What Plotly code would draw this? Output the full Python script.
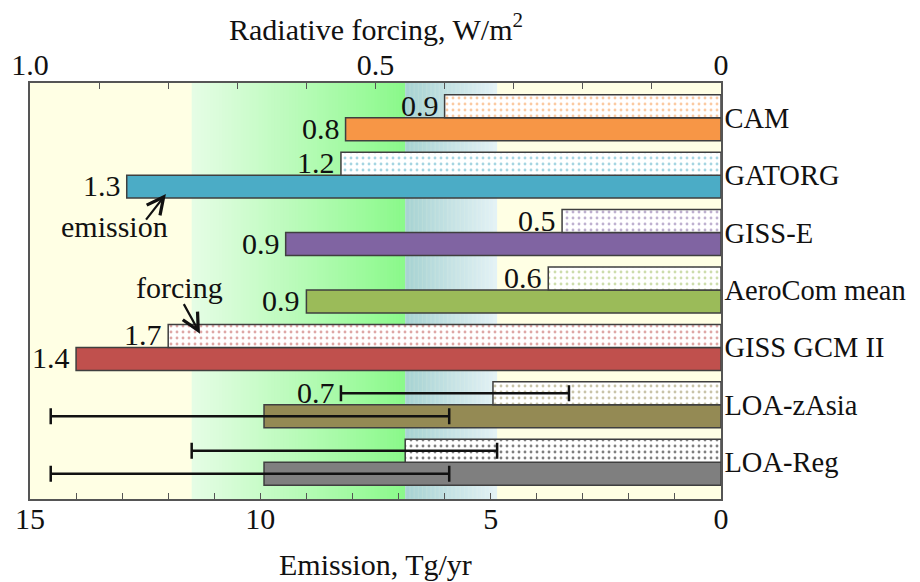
import plotly.graph_objects as go

# ---------------- data ----------------
models = ["CAM", "GATORG", "GISS-E", "AeroCom mean", "GISS GCM II", "LOA-zAsia", "LOA-Reg"]
colors = ["#F79646", "#4BACC6", "#8064A2", "#9BBB59", "#C0504D", "#948A54", "#7F7F7F"]
dot_colors = ["#F79646", "#4BACC6", "#8064A2", "#9BBB59", "#C0504D", "#948A54", "#000000"]

forcing = [0.40, 0.55, 0.23, 0.25, 0.80, 0.33, 0.457]          # W/m2
forcing_hi = [None, None, None, None, None, 0.55, 0.766]
forcing_lo = [None, None, None, None, None, 0.22, 0.324]
forcing_labels = ["0.9", "1.2", "0.5", "0.6", "1.7", "0.7", ""]

emission = [8.15, 12.9, 9.45, 9.0, 14.0, 9.92, 9.92]          # Tg/yr
emission_hi = [None, None, None, None, None, 14.55, 14.55]
emission_lo = [None, None, None, None, None, 5.9, 5.9]
emission_labels = ["0.8", "1.3", "0.9", "0.9", "1.4", "", ""]

rf_ticks = [1.0, 0.5, 0]
rf_ticktext = ["1.0", "0.5", "0"]
em_ticks = [15, 10, 5, 0]
em_ticktext = ["15", "10", "5", "0"]

RF_MAX = 1.0
EM_MAX = 15.0

FONT = "Liberation Serif, Times New Roman, serif"
FS = 30
TXT = "#111111"
FRAME = "#555555"
OUTLINE = "#3F3F3F"

n = len(models)
idx = list(range(n))
y_rf = [i - 0.2 for i in idx]
y_em = [i + 0.2 for i in idx]

fig = go.Figure()

# emission bars (bottom axis)
fig.add_trace(go.Bar(
    x=emission, y=y_em, orientation="h", width=0.4, xaxis="x", yaxis="y",
    marker=dict(color=colors, line=dict(color=OUTLINE, width=1.5)),
    showlegend=False, hoverinfo="skip"))

# emission error bars
e_rows = [i for i in idx if emission_hi[i] is not None]
fig.add_trace(go.Scatter(
    x=[emission[i] for i in e_rows], y=[y_em[i] for i in e_rows],
    mode="markers", marker=dict(size=1, opacity=0), xaxis="x", yaxis="y",
    error_x=dict(type="data", symmetric=False,
                 array=[emission_hi[i] - emission[i] for i in e_rows],
                 arrayminus=[emission[i] - emission_lo[i] for i in e_rows],
                 color="#111111", thickness=2.5, width=8),
    showlegend=False, hoverinfo="skip"))

# forcing bars (top axis)
fig.add_trace(go.Bar(
    x=forcing, y=y_rf, orientation="h", width=0.4, xaxis="x2", yaxis="y",
    marker=dict(color="white", line=dict(color=OUTLINE, width=1.5),
                pattern=dict(shape=".", fgcolor=dot_colors, bgcolor="white",
                             size=6, solidity=0.18)),
    showlegend=False, hoverinfo="skip"))

f_rows = [i for i in idx if forcing_hi[i] is not None]
fig.add_trace(go.Scatter(
    x=[forcing[i] for i in f_rows], y=[y_rf[i] for i in f_rows],
    mode="markers", marker=dict(size=1, opacity=0), xaxis="x2", yaxis="y",
    error_x=dict(type="data", symmetric=False,
                 array=[forcing_hi[i] - forcing[i] for i in f_rows],
                 arrayminus=[forcing[i] - forcing_lo[i] for i in f_rows],
                 color="#111111", thickness=2.5, width=8),
    showlegend=False, hoverinfo="skip"))

# ---------------- background bands (derived from LOA-Reg forcing range) ----------------
shapes = []
ref = models.index("LOA-Reg")
scale = EM_MAX / RF_MAX


def hex2rgb(h):
    h = h.lstrip("#")
    return tuple(int(h[k:k + 2], 16) for k in (0, 2, 4))


def gradient(x_start, x_end, c_start, c_end, steps=70):
    a, b = hex2rgb(c_start), hex2rgb(c_end)
    w = (x_end - x_start) / steps
    for s in range(steps):
        t = (s + 0.5) / steps
        c = tuple(round(a[k] + (b[k] - a[k]) * t) for k in range(3))
        shapes.append(dict(type="rect", xref="x", yref="paper",
                           x0=x_start + s * w, x1=x_start + (s + 1) * w + (w * 0.3 if s < steps - 1 else 0),
                           y0=0, y1=1, layer="below", line=dict(width=0),
                           fillcolor="rgb(%d,%d,%d)" % c))


gradient(forcing_hi[ref] * scale, forcing[ref] * scale, "#E6FDE6", "#8AF98A")
gradient(forcing[ref] * scale, forcing_lo[ref] * scale, "#A6D2D2", "#E4F2F6")

# ---------------- annotations ----------------
ann = []
for i in idx:
    if forcing_labels[i]:
        xv = forcing_hi[i] if forcing_hi[i] is not None else forcing[i]
        ann.append(dict(x=xv, y=y_rf[i], xref="x2", yref="y", text=forcing_labels[i],
                        showarrow=False, xanchor="right", yanchor="middle", xshift=-4, yshift=1,
                        font=dict(family=FONT, size=FS, color=TXT)))
    if emission_labels[i]:
        ann.append(dict(x=emission[i], y=y_em[i], xref="x", yref="y", text=emission_labels[i],
                        showarrow=False, xanchor="right", yanchor="middle", xshift=-4, yshift=1,
                        font=dict(family=FONT, size=FS, color=TXT)))

# pointer annotations
ann.append(dict(x=12.05, y=1.33, xref="x", yref="y", text="", showarrow=True,
                arrowhead=5, arrowsize=1.5, arrowwidth=2.2, arrowcolor="#111",
                ax=-21, ay=27))
ann.append(dict(x=13.17, y=1.9, xref="x", yref="y", text="emission", showarrow=False,
                xanchor="center", yanchor="middle",
                font=dict(family=FONT, size=FS, color=TXT)))
ann.append(dict(x=11.31, y=3.76, xref="x", yref="y", text="", showarrow=True,
                arrowhead=5, arrowsize=1.5, arrowwidth=2.2, arrowcolor="#111",
                ax=-17, ay=-31))
ann.append(dict(x=11.75, y=2.95, xref="x", yref="y", text="forcing", showarrow=False,
                xanchor="center", yanchor="middle",
                font=dict(family=FONT, size=FS, color=TXT)))

# axis titles
ann.append(dict(x=0.5, y=1, xref="paper", yref="paper", yshift=56, text="Radiative forcing, W/m<sup>2</sup>",
                showarrow=False, xanchor="center", yanchor="middle",
                font=dict(family=FONT, size=FS, color=TXT)))
ann.append(dict(x=0.5, y=0, xref="paper", yref="paper", yshift=-65, text="Emission, Tg/yr",
                showarrow=False, xanchor="center", yanchor="middle",
                font=dict(family=FONT, size=FS, color=TXT)))

fig.update_layout(
    width=912, height=574,
    margin=dict(l=22, r=199, t=75, b=83, autoexpand=False),
    paper_bgcolor="white",
    plot_bgcolor="#FFFFE4",
    barmode="overlay",
    showlegend=False,
    font=dict(family=FONT, size=FS, color=TXT),
    shapes=shapes,
    annotations=ann,
    xaxis=dict(range=[EM_MAX, 0], tickvals=em_ticks, ticktext=em_ticktext,
               ticks="inside", ticklen=6, tickwidth=1, tickcolor=FRAME,
               minor=dict(dtick=1, ticks="inside", ticklen=6, tickwidth=1, tickcolor=FRAME, showgrid=False),
               showgrid=False, zeroline=False, showline=True, linecolor=FRAME, linewidth=1.5,
               mirror=False, ticklabelstandoff=-8, automargin=False,
               tickfont=dict(family=FONT, size=FS, color=TXT)),
    xaxis2=dict(range=[RF_MAX, 0], overlaying="x", side="top", anchor="y",
                tickvals=rf_ticks, ticktext=rf_ticktext,
                ticks="inside", ticklen=6, tickwidth=1, tickcolor=FRAME,
                minor=dict(dtick=0.1, ticks="inside", ticklen=6, tickwidth=1, tickcolor=FRAME, showgrid=False),
                showgrid=False, zeroline=False, showline=True, linecolor=FRAME, linewidth=1.5,
                ticklabelstandoff=-6, automargin=False,
                tickfont=dict(family=FONT, size=FS, color=TXT)),
    yaxis=dict(range=[n - 1 + 0.64, -0.605], tickvals=idx, ticktext=models, side="right",
               ticks="", showgrid=False, zeroline=False, showline=True, mirror=True,
               linecolor=FRAME, linewidth=1.5, ticklabelstandoff=-4, automargin=False,
               tickfont=dict(family=FONT, size=28.5, color=TXT)),
)

fig.write_html("out.html")
